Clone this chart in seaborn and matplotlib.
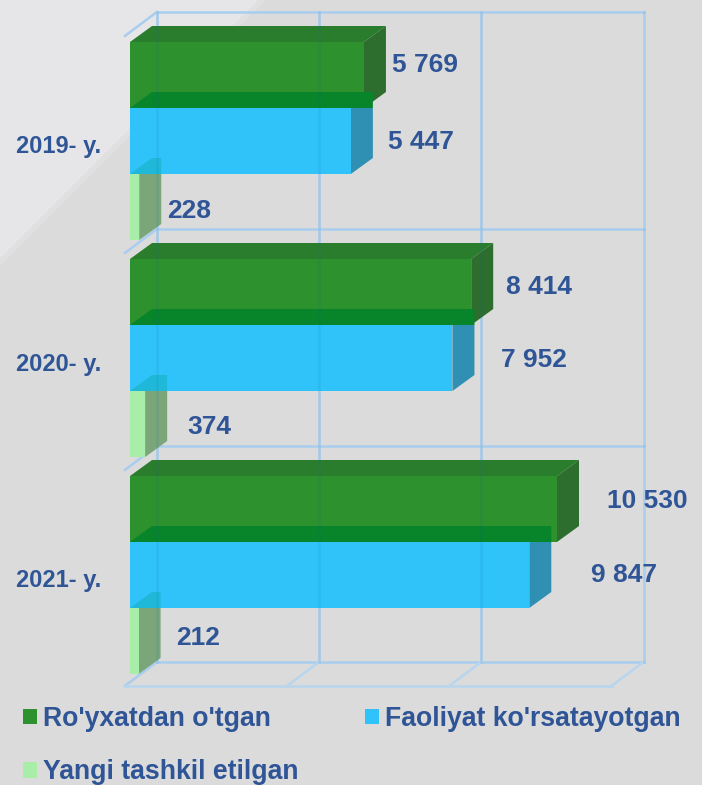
import matplotlib
matplotlib.use('Agg')
import matplotlib.pyplot as plt
from matplotlib.patches import Polygon
import pandas as pd
import seaborn as sns

years = ['2019- y.', '2020- y.', '2021- y.']
series_names = ["Ro'yxatdan o'tgan", "Faoliyat ko'rsatayotgan", 'Yangi tashkil etilgan']
registered = [5769, 8414, 10530]
active = [5447, 7952, 9847]
new_firms = [228, 374, 212]
grid_values = [0, 4000, 8000, 12000]

# colours: front face, top face, side face
front_colors = ['#2d912d', '#30c3fa', '#a8eea8']
top_colors = ['#2b7d2e', '#08842a', '#1fb8d8']
side_colors = ['#2d6d2d', '#3090b4', '#7aa67a']
line_color = '#a9cdee'
text_color = '#2f5597'

# label offset from the end of the bar in pixels, and y in pixels
label_dx = [[6, 15, 6], [13, 27, 20], [28, 40, 16]]
label_y = [[65, 142, 211], [287, 360, 427], [501, 575, 638]]
tick_shift = 6  # tick labels sit a little under the group centre

W, H = 702, 785
PX_X = 427 / 10530   # pixels per value unit
PX_Y = 217           # pixels per category
Y0 = 141             # pixel y of the first category
DEPTH_X = 22 / PX_X
DEPTH_Y = 16 / PX_Y

plt.rcParams['font.family'] = ['Liberation Sans', 'DejaVu Sans']
plt.rcParams['font.weight'] = 'bold'

df = pd.DataFrame({
    'year': years * 3,
    'series': [s for s in series_names for _ in years],
    'value': registered + active + new_firms,
})

fig = plt.figure(figsize=(W / 100, H / 100), dpi=100, facecolor='#dbdbdb')

# lighter corner at the top left
for reach, col in [(266, '#e0e0e2'), (258, '#e6e6e8')]:
    fig.add_artist(Polygon([(0, 1), (reach / W, 1), (0, 1 - reach / H)], closed=True,
                           transform=fig.transFigure, facecolor=col, edgecolor='none', zorder=-5))

ax = fig.add_axes([130 / W, 0, (W - 130) / W, 1])
ax.patch.set_visible(False)
sns.barplot(data=df, y='year', x='value', hue='series', hue_order=series_names, order=years,
            palette=front_colors, saturation=1, width=198 / 217, gap=0, linewidth=0, ax=ax)

ax.set_xlim(0, (W - 130) / PX_X)
ax.set_ylim((H - Y0) / PX_Y, -Y0 / PX_Y)

# 3d box behind the bars
wall_off = 27 / PX_X
floor_off = -5 / PX_X
back_rows = [i - 0.595 for i in range(len(years))] + [len(years) - 0.6]
wall_x = [v + wall_off for v in grid_values]
floor_x = [v + floor_off for v in grid_values]
box_top, box_bottom = back_rows[0], back_rows[-1]
front_y = box_bottom + 24 / PX_Y
line_kw = dict(color=line_color, lw=1.8, clip_on=False, zorder=1)
floor_kw = dict(color='#b8d5ee', lw=1.8, clip_on=False, zorder=1)
for x in wall_x:
    col = '#bcdaf4' if x == wall_x[-1] else '#b3d4f2'
    ax.plot([x, x], [box_top, box_bottom], color=col, lw=1.8, clip_on=False, zorder=1)
    # the walls show faintly through the bars
    ax.plot([x, x], [box_top, box_bottom], color='#0f6a9c', alpha=0.1, lw=1.8, clip_on=False, zorder=15)
for y in back_rows:
    ax.plot([wall_x[0], wall_x[-1]], [y, y], **line_kw)
    ax.plot([floor_x[0], wall_x[0]], [y + 24 / PX_Y, y], **line_kw)
for x0, x1 in zip(floor_x[1:], wall_x[1:]):
    ax.plot([x0, x1], [front_y, box_bottom], **floor_kw)
ax.plot([floor_x[0], floor_x[-1]], [front_y, front_y], **floor_kw)

# top and side faces worked out from the bars seaborn drew
for s, container in enumerate(ax.containers):
    z = 2 + 2 * s
    for i, bar in enumerate(container):
        x1 = bar.get_width()
        y0, y1 = bar.get_y(), bar.get_y() + bar.get_height()
        back = y0 - DEPTH_Y
        if s == 0:
            top = [(0, y0), (DEPTH_X, back), (x1 + DEPTH_X, back), (x1, y0)]
            side = [(x1, y0), (x1 + DEPTH_X, back), (x1 + DEPTH_X, y1 - DEPTH_Y), (x1, y1)]
        else:
            # over the bar behind, the side's upper part takes the top colour
            top = [(0, y0), (DEPTH_X, back), (x1 + DEPTH_X, back), (x1 + DEPTH_X, y0)]
            side = [(x1, y0), (x1 + DEPTH_X, y0), (x1 + DEPTH_X, y1 - DEPTH_Y), (x1, y1)]
        ax.add_patch(Polygon(top, closed=True, facecolor=top_colors[s], edgecolor='none', zorder=z, clip_on=False))
        ax.add_patch(Polygon(side, closed=True, facecolor=side_colors[s], edgecolor='none', zorder=z, clip_on=False))
        bar.set_zorder(z + 1)
        label = f'{int(x1):,}'.replace(',', ' ')
        ax.text(x1 + DEPTH_X + label_dx[i][s] / PX_X, (label_y[i][s] - Y0) / PX_Y, label,
                color=text_color, fontsize=19, fontweight='bold', va='center', ha='left', zorder=20)

sns.despine(ax=ax, left=True, bottom=True)
ax.set_xlabel('')
ax.set_ylabel('')
ax.set_xticks([])
ax.set_yticks(range(len(years)), labels=[])
ax.tick_params(axis='y', length=0)
for i, year in enumerate(years):
    ax.text(-29 / PX_X, i + tick_shift / PX_Y, year, color=text_color, fontsize=17,
            fontweight='bold', va='center', ha='right', clip_on=False)

handles, labels = ax.get_legend_handles_labels()
order = [0, 2, 1]
ax.get_legend().remove()
fig.legend([handles[i] for i in order], [labels[i] for i in order], ncol=2, frameon=False,
           loc='upper left', bbox_to_anchor=(23 / W, 1 - 706 / H), borderaxespad=0, borderpad=0,
           prop={'size': 19.2, 'weight': 'bold'}, labelcolor=text_color,
           handlelength=0.525, handleheight=0.525, handletextpad=0.225,
           columnspacing=2.5, labelspacing=1.02)

fig.savefig('out.png', dpi=100, facecolor=fig.get_facecolor())
